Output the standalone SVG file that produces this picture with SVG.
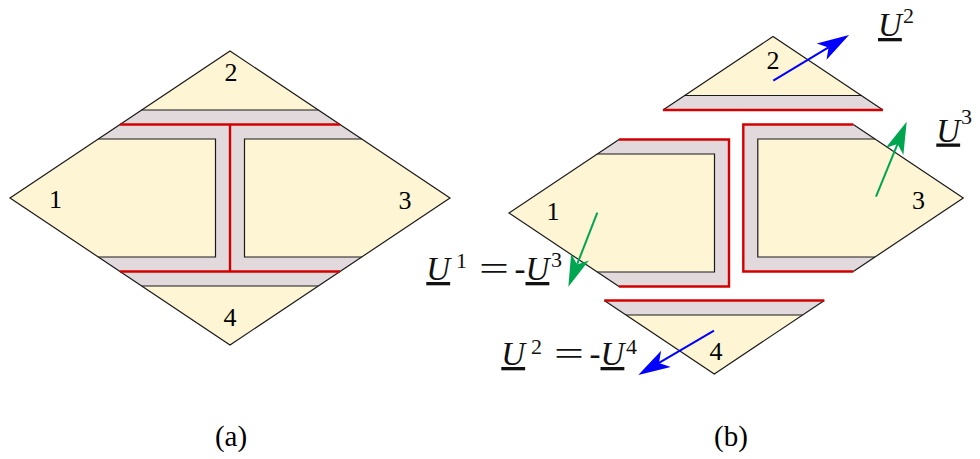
<svg xmlns="http://www.w3.org/2000/svg" width="980" height="459" viewBox="0 0 980 459">
<defs>
<style>
.cream{fill:#fdf5d3;stroke:none}
.gray{fill:#e1d9db;stroke:none}
.blk{fill:none;stroke:#1a1a1a;stroke-width:1.2;stroke-linejoin:miter}
.red{fill:none;stroke:#d40000;stroke-width:2.4;stroke-linejoin:miter;stroke-linecap:butt}
.num{font-family:"Liberation Serif","Times New Roman",serif;font-size:26px;fill:#000;text-anchor:middle}
.cap{font-family:"Liberation Serif","Times New Roman",serif;font-size:29px;fill:#000;text-anchor:middle}
.m{font-family:"Liberation Serif","Times New Roman",serif;font-size:33px;font-weight:normal;fill:#111}
.it{font-style:italic;text-decoration:underline}
.sup{font-size:22px;font-style:normal;text-decoration:none}
.ab{fill:none;stroke:#0000ff;stroke-width:2}
.ag{fill:none;stroke:#00a550;stroke-width:2}
</style>
<marker id="hb" markerUnits="userSpaceOnUse" orient="auto" refX="0" refY="0" markerWidth="40" markerHeight="40" overflow="visible">
<path d="M24,0 L-8,-9.5 L0,0 L-8,9.5 Z" fill="#0000ff"/>
</marker>
<marker id="hg" markerUnits="userSpaceOnUse" orient="auto" refX="0" refY="0" markerWidth="40" markerHeight="40" overflow="visible">
<path d="M24,0 L-8,-9.5 L0,0 L-8,9.5 Z" fill="#00a550"/>
</marker>
</defs>

<!-- Panel (a) -->
<g id="panel-a">
<polygon class="cream" points="230,51 450,198 230,345 10,198"/>
<polygon class="gray" points="141.7,110 318.3,110 361.7,139 244.5,139 244.5,257 361.7,257 318.3,286 141.7,286 98.3,257 215.5,257 215.5,139 98.3,139"/>
<polygon class="blk" points="230,51 450,198 230,345 10,198"/>
<line class="blk" x1="141.7" y1="110" x2="318.3" y2="110"/>
<polyline class="blk" points="98.3,139 215.5,139 215.5,257 98.3,257"/>
<polyline class="blk" points="361.7,139 244.5,139 244.5,257 361.7,257"/>
<line class="blk" x1="141.7" y1="286" x2="318.3" y2="286"/>
<line class="red" x1="120" y1="124.5" x2="340" y2="124.5"/>
<line class="red" x1="120" y1="271.5" x2="340" y2="271.5"/>
<line class="red" x1="230" y1="124.5" x2="230" y2="271.5"/>
<text class="num" x="55.5" y="208">1</text>
<text class="num" x="231" y="81">2</text>
<text class="num" x="405" y="209">3</text>
<text class="num" x="230" y="326">4</text>
</g>

<!-- Panel (b) -->
<g id="piece-2" transform="translate(543,-14.5)">
<polygon class="cream" points="230,51 318.3,110 141.7,110"/>
<polygon class="gray" points="141.7,110 318.3,110 340,124.5 120,124.5"/>
<polyline class="blk" points="120,124.5 230,51 340,124.5"/>
<line class="blk" x1="141.7" y1="110" x2="318.3" y2="110"/>
<line class="red" x1="120" y1="124.5" x2="340" y2="124.5"/>
</g>
<g id="piece-3" transform="translate(513.3,0)">
<polygon class="gray" points="230,124.5 340,124.5 450,198 340,271.5 230,271.5"/>
<polygon class="cream" points="244.5,139 361.7,139 450,198 361.7,257 244.5,257"/>
<polyline class="blk" points="361.7,139 244.5,139 244.5,257 361.7,257"/>
<polyline class="blk" points="340,124.5 450,198 340,271.5"/>
<polyline class="red" points="340,124.5 230,124.5 230,271.5 340,271.5"/>
</g>
<g id="piece-1" transform="translate(499,15)">
<polygon class="gray" points="230,124.5 120,124.5 10,198 120,271.5 230,271.5"/>
<polygon class="cream" points="215.5,139 98.3,139 10,198 98.3,257 215.5,257"/>
<polyline class="blk" points="98.3,139 215.5,139 215.5,257 98.3,257"/>
<polyline class="blk" points="120,124.5 10,198 120,271.5"/>
<polyline class="red" points="120,124.5 230,124.5 230,271.5 120,271.5"/>
</g>
<g id="piece-4" transform="translate(484.3,29)">
<polygon class="cream" points="141.7,286 318.3,286 230,345"/>
<polygon class="gray" points="120,271.5 340,271.5 318.3,286 141.7,286"/>
<polyline class="blk" points="120,271.5 230,345 340,271.5"/>
<line class="blk" x1="141.7" y1="286" x2="318.3" y2="286"/>
<line class="red" x1="120" y1="271.5" x2="340" y2="271.5"/>
</g>
<g id="labels-b">
<text class="num" x="553" y="220">1</text>
<text class="num" x="773" y="69">2</text>
<text class="num" x="918.5" y="209">3</text>
<text class="num" x="716" y="360">4</text>
</g>

<!-- Connectors (arrows) -->
<g id="arrows">
<line class="ab" x1="773.3" y1="80.7" x2="828.5" y2="47.4" marker-end="url(#hb)"/>
<line class="ag" x1="876" y1="196.7" x2="897.6" y2="143.9" marker-end="url(#hg)"/>
<line class="ag" x1="597.3" y1="212.7" x2="577.1" y2="264.4" marker-end="url(#hg)"/>
<line class="ab" x1="714" y1="330.7" x2="659" y2="362.9" marker-end="url(#hb)"/>
</g>

<!-- Math labels -->
<g id="label-U2">
<text class="m" y="36"><tspan class="it" x="878">U</tspan><tspan class="sup" x="903" y="23">2</tspan></text>
</g>
<g id="label-U3">
<text class="m" y="141.5"><tspan class="it" x="936.3">U</tspan><tspan class="sup" x="961" y="123.5">3</tspan></text>
</g>
<g id="label-U1-eq">
<text class="m" y="280"><tspan class="it" x="426.3">U</tspan><tspan class="sup" x="456" y="267.5">1</tspan><tspan x="479" y="280" textLength="30" lengthAdjust="spacingAndGlyphs">=</tspan><tspan x="514.5">-</tspan><tspan class="it" x="525.5">U</tspan><tspan class="sup" x="551" y="267">3</tspan></text>
</g>
<g id="label-U2-eq">
<text class="m" y="365"><tspan class="it" x="501.3">U</tspan><tspan class="sup" x="531" y="354">2</tspan><tspan x="554" y="365" textLength="30" lengthAdjust="spacingAndGlyphs">=</tspan><tspan x="589.5">-</tspan><tspan class="it" x="600.5">U</tspan><tspan class="sup" x="626" y="354">4</tspan></text>
</g>

<g id="captions">
<text class="cap" x="231" y="445.5">(a)</text>
<text class="cap" x="731" y="445.5">(b)</text>
</g>
</svg>
